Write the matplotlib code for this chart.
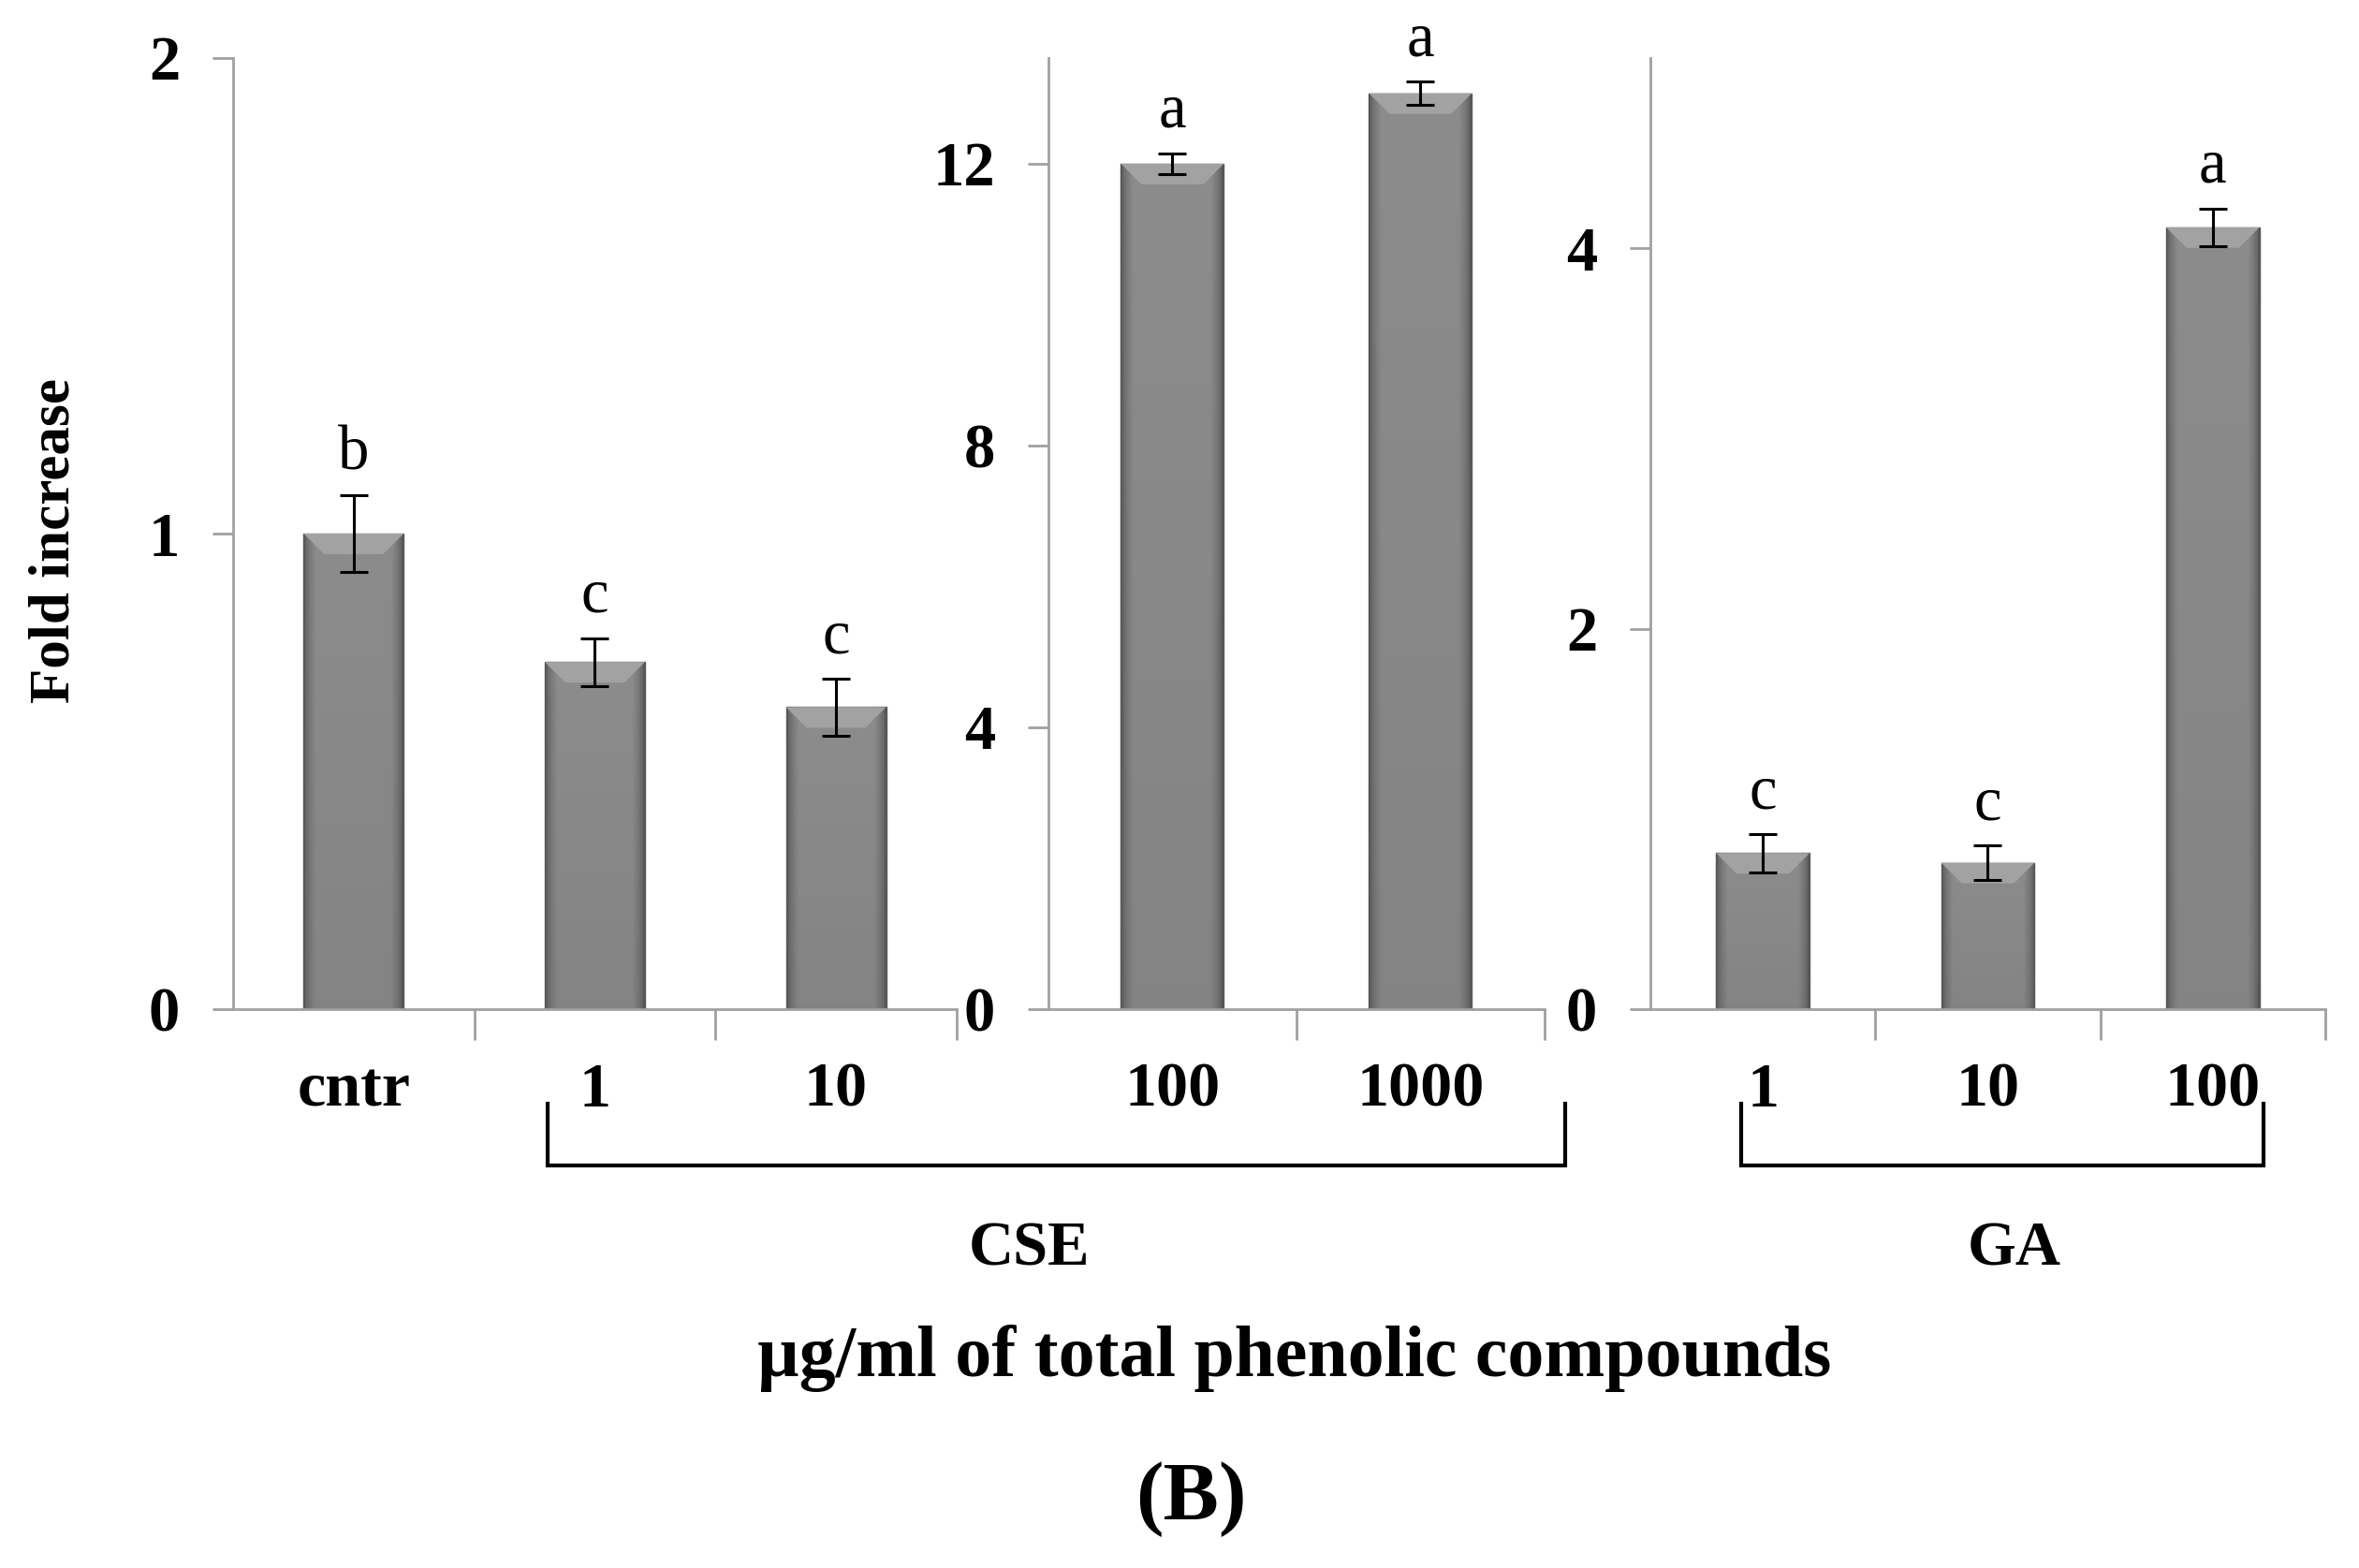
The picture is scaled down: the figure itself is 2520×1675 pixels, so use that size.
import numpy as np
import matplotlib
matplotlib.use('Agg')
import matplotlib.pyplot as plt
from matplotlib.colors import LinearSegmentedColormap
from matplotlib.patches import Polygon
from matplotlib.lines import Line2D

plt.rcParams['font.family'] = ['Liberation Serif', 'DejaVu Serif']

# control + low CSE doses (left panel, 0-2 scale)
low_labels = ['cntr', '1', '10']
low_values = [1.0, 0.73, 0.635]
low_errors = [0.08, 0.05, 0.06]
low_letters = ['b', 'c', 'c']

# high CSE doses (middle panel, 0-13.5 scale)
high_labels = ['100', '1000']
high_values = [12.0, 13.0]
high_errors = [0.15, 0.17]
high_letters = ['a', 'a']

# gallic acid (right panel, 0-5 scale)
ga_labels = ['1', '10', '100']
ga_values = [0.82, 0.77, 4.11]
ga_errors = [0.10, 0.09, 0.10]
ga_letters = ['c', 'c', 'a']

AXIS_GREY = '#a0a0a0'
bar_cmap = LinearSegmentedColormap.from_list('bar', ['#555555', '#8c8c8c'])


def shade_bars(ax, bars):
    # Excel-like gradient: darker sides and bottom, light bevel on the top
    h = np.linspace(0, 1, 64)
    side = np.clip(np.minimum(h, 1 - h) / 0.12, 0, 1) ** 0.6
    v = np.linspace(1.0, 0.85, 100)[:, None]
    grad = side[None, :] * v
    inv = ax.transData.inverted()
    for b in bars:
        x0, y0 = b.get_xy()
        w, ht = b.get_width(), b.get_height()
        im = ax.imshow(grad, extent=[x0, x0 + w, y0, y0 + ht], aspect='auto',
                       cmap=bar_cmap, vmin=0, vmax=1, origin='upper', zorder=2.1)
        im.set_clip_path(b)
        # bevel on the top of the bar, 22 px deep
        tl = ax.transData.transform((x0, y0 + ht))
        tr = ax.transData.transform((x0 + w, y0 + ht))
        d = 22
        pts = inv.transform([tl, tr, (tr[0] - d, tr[1] - d), (tl[0] + d, tl[1] - d)])
        ax.add_patch(Polygon(pts, closed=True, facecolor='#a2a2a2', edgecolor='none', zorder=2.2))


def draw_panel(fig, rect, labels, values, errors, letters, ymax, yticks):
    ax = fig.add_axes(rect)
    x = np.arange(len(values))
    bars = ax.bar(x, values, width=0.415, color='#747474', edgecolor='#5a5a5a',
                  linewidth=1.0, zorder=2)
    ax.errorbar(x, values, yerr=errors, fmt='none', ecolor='black', elinewidth=2.2,
                capsize=11, capthick=2.2, zorder=4)
    ax.set_xlim(-0.5, len(values) - 0.5)
    ax.set_ylim(0, ymax)
    ax.set_autoscale_on(False)
    shade_bars(ax, bars)

    for xi, v, e, letter in zip(x, values, errors, letters):
        ax.annotate(letter, (xi, v + e), xytext=(0, 20), textcoords='offset points',
                    ha='center', va='baseline', fontsize=48, annotation_clip=False)

    for s in ['top', 'right']:
        ax.spines[s].set_visible(False)
    for s in ['left', 'bottom']:
        ax.spines[s].set_color(AXIS_GREY)
        ax.spines[s].set_linewidth(2)

    ax.set_yticks(yticks)
    ax.set_yticklabels([str(t) for t in yticks], fontsize=48, fontweight='bold')
    ax.tick_params(axis='y', length=16, width=2, color=AXIS_GREY, pad=25)

    ax.set_xticks(x)
    ax.set_xticklabels(labels, fontsize=49, fontweight='bold')
    ax.set_xticks(np.arange(0.5, len(values)), minor=True)
    ax.tick_params(axis='x', which='major', length=0, pad=41)
    ax.tick_params(axis='x', which='minor', length=24, width=2, color=AXIS_GREY)
    return ax


fig = plt.figure(figsize=(25.2, 16.75), dpi=100)

bottom, height = 0.3564, 0.6066
ax1 = draw_panel(fig, [0.0988, bottom, 0.3067, height], low_labels, low_values,
                 low_errors, low_letters, 2, [0, 1, 2])
ax2 = draw_panel(fig, [0.4444, bottom, 0.2103, height], high_labels, high_values,
                 high_errors, high_letters, 13.5, [0, 4, 8, 12])
ax3 = draw_panel(fig, [0.6996, bottom, 0.2861, height], ga_labels, ga_values,
                 ga_errors, ga_letters, 5, [0, 2, 4])

fig.text(0.0234, 0.655, 'Fold increase', rotation=90, ha='center', va='center',
         fontsize=44, fontweight='bold')

# group brackets under the tick labels
y_top, y_bot = 0.2961, 0.2567
for x_left, x_right in [(585 / 2520, 1672 / 2520), (1860 / 2520, 2418 / 2520)]:
    fig.add_artist(Line2D([x_left, x_left, x_right, x_right], [y_top, y_bot, y_bot, y_top],
                          transform=fig.transFigure, color='black', linewidth=3,
                          solid_joinstyle='miter'))

fig.text(1100 / 2520, 0.203, 'CSE', ha='center', va='center', fontsize=48, fontweight='bold')
fig.text(2152 / 2520, 0.203, 'GA', ha='center', va='center', fontsize=48, fontweight='bold')
fig.text(1383 / 2520, 0.1224, 'µg/ml of total phenolic compounds', ha='center',
         va='baseline', fontsize=56, fontweight='bold')
fig.text(1272 / 2520, 0.044, '(B)', ha='center', va='center', fontsize=64, fontweight='bold')

fig.savefig('out.png', dpi=100, facecolor='white')
